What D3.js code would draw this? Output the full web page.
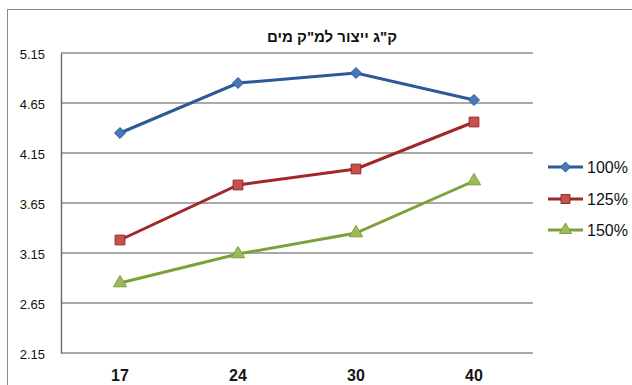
<!DOCTYPE html>
<html><head><meta charset="utf-8">
<script src="https://cdn.jsdelivr.net/npm/d3@7"></script>
<style>body{margin:0;background:#fff}svg{display:block}</style>
</head><body>
<script>
const categories = ["17","24","30","40"];
const yTicks = [2.15,2.65,3.15,3.65,4.15,4.65,5.15];
const seriesNames = ["100%","125%","150%"];
const s100 = [4.35,4.85,4.95,4.68];
const s125 = [3.28,3.83,3.99,4.46];
const s150 = [2.85,3.14,3.35,3.87];
const title = "ק\"ג ייצור למ\"ק מים";

const W=632,H=385;
const svg=d3.select("body").append("svg").attr("width",W).attr("height",H);
svg.append("rect").attr("x",7.5).attr("y",9.5).attr("width",640).attr("height",400)
  .attr("fill","#fff").attr("stroke","#8a8a8a").attr("stroke-width",1);

const x=d3.scaleBand().domain(categories).range([61,533]);
const y=d3.scaleLinear().domain([2.15,5.15]).range([353,53]);
const narrow="'Liberation Sans',Arial,sans-serif";

// gridlines
svg.selectAll("line.grid").data(yTicks).join("line")
  .attr("x1",61).attr("x2",533).attr("y1",d=>y(d)).attr("y2",d=>y(d))
  .attr("stroke","#8c8c8c").attr("stroke-width",1.4);
// y axis
const yAxis=d3.axisLeft(y).tickValues(yTicks).tickFormat(d3.format(".2f")).tickSize(0).tickPadding(16);
const ya=svg.append("g").attr("transform","translate(61,0)").call(yAxis);
ya.select(".domain").attr("stroke","#6a6a6a").attr("stroke-width",1.4);
ya.selectAll("text").attr("font-family",narrow).attr("font-size",13).attr("fill","#111").attr("dy","0.45em");
// x axis labels
const xAxis=d3.axisBottom(x).tickSize(0).tickPadding(17);
const xa=svg.append("g").attr("transform","translate(0,353)").call(xAxis);
xa.select(".domain").remove();
xa.selectAll("text").attr("font-family",narrow).attr("font-size",16).attr("font-weight","bold").attr("fill","#151515");

const diamond={draw(ctx,size){const r=Math.sqrt(size)/2;ctx.moveTo(0,-r);ctx.lineTo(r,0);ctx.lineTo(0,r);ctx.lineTo(-r,0);ctx.closePath();}};
const series=[
 {name:seriesNames[0],vals:s100,line:"#2c5a98",fill:"#4779b8",stroke:"#2c5a98",sym:diamond,size:120},
 {name:seriesNames[1],vals:s125,line:"#a0282a",fill:"#c8504e",stroke:"#8e2a28",sym:d3.symbolSquare,size:95},
 {name:seriesNames[2],vals:s150,line:"#7ea03a",fill:"#9bbb59",stroke:"#7ea03a",sym:d3.symbolTriangle,size:75}
];
const line=d3.line().x((d,i)=>x(categories[i])+x.bandwidth()/2).y(d=>y(d));
series.forEach(s=>{
  svg.append("path").datum(s.vals).attr("d",line).attr("fill","none").attr("stroke",s.line).attr("stroke-width",3);
  svg.selectAll(null).data(s.vals).join("path")
    .attr("d",d3.symbol().type(s.sym).size(s.size))
    .attr("transform",(d,i)=>`translate(${x(categories[i])+x.bandwidth()/2},${y(d)})`)
    .attr("fill",s.fill).attr("stroke",s.stroke).attr("stroke-width",1);
});
// legend
const legY=[167,199,230];
series.forEach((s,i)=>{
  const lg=svg.append("g").attr("transform",`translate(548,${legY[i]})`);
  lg.append("line").attr("x1",0).attr("x2",35).attr("stroke",s.line).attr("stroke-width",3);
  lg.append("path").attr("d",d3.symbol().type(s.sym).size(s.size*0.85)).attr("transform","translate(17.5,0)")
    .attr("fill",s.fill).attr("stroke",s.stroke).attr("stroke-width",1);
  lg.append("text").attr("x",39).attr("y",6).text(s.name)
    .attr("font-family",narrow).attr("font-size",16).attr("fill","#111");
});
// title
svg.append("text").attr("x",332).attr("y",42).attr("text-anchor","middle").attr("direction","rtl")
  .attr("font-family",narrow).attr("font-size",15).attr("font-weight","bold").attr("fill","#111")
  .text(title);
</script>
</body></html>
